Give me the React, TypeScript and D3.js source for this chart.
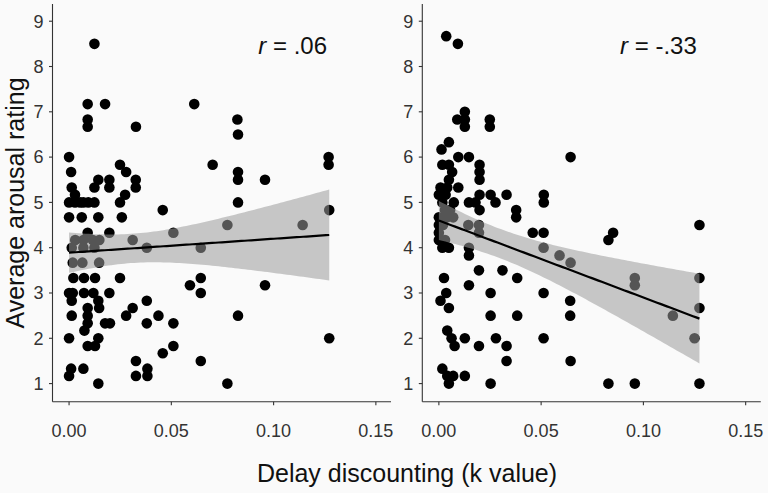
import React from "react";
import * as d3 from "d3";

// ---- Data ----
const leftK = [
  0.0124, 0.0091, 0.0176, 0.0612, 0.0091, 0.0091, 0.0327, 0.0823, 0.0826, 0.0, 0.1269, 0.0702, 0.0249, 0.1269,
  0.001, 0.0279, 0.0826, 0.0143, 0.0197, 0.0326, 0.0826, 0.0958, 0.0013, 0.0124, 0.0197, 0.0326, 0.0029, 0.0274,
  0.0, 0.0029, 0.0054, 0.007, 0.0094, 0.0124, 0.0249, 0.0826, 0.0458, 0.1272, 0.0, 0.0062, 0.0143, 0.0258,
  0.0774, 0.1142, 0.0091, 0.0197, 0.051, 0.003, 0.007, 0.0116, 0.0148, 0.0311, 0.0013, 0.007, 0.0124, 0.038,
  0.0644, 0.0018, 0.0065, 0.0147, 0.0021, 0.0073, 0.0127, 0.0249, 0.0644, 0.0591, 0.0958, 0.0, 0.0018, 0.0073,
  0.0119, 0.0197, 0.0644, 0.0013, 0.0143, 0.038, 0.0091, 0.0147, 0.0311, 0.0013, 0.0091, 0.0279, 0.0437, 0.0826,
  0.0091, 0.0176, 0.02, 0.038, 0.051, 0.0075, 0.0, 0.0143, 0.1272, 0.0091, 0.0127, 0.051, 0.0458, 0.0327,
  0.0644, 0.001, 0.0, 0.007, 0.0327, 0.0383, 0.0383, 0.0143, 0.0774,
];
const leftV = [
  8.5, 7.17, 7.17, 7.17, 6.83, 6.67, 6.67, 6.83, 6.5, 6.0, 6.0, 5.83, 5.83, 5.83,
  5.67, 5.67, 5.67, 5.5, 5.5, 5.5, 5.5, 5.5, 5.33, 5.33, 5.33, 5.33, 5.17, 5.17,
  5.0, 5.0, 5.0, 5.0, 5.0, 5.0, 5.0, 5.0, 4.83, 4.83, 4.67, 4.67, 4.67, 4.67,
  4.5, 4.5, 4.33, 4.33, 4.33, 4.17, 4.17, 4.17, 4.17, 4.17, 4.0, 4.0, 4.0, 4.0,
  4.0, 3.67, 3.67, 3.67, 3.33, 3.33, 3.33, 3.33, 3.33, 3.17, 3.17, 3.0, 3.0, 3.0,
  3.0, 3.0, 3.0, 2.83, 2.83, 2.83, 2.67, 2.67, 2.67, 2.5, 2.5, 2.5, 2.5, 2.5,
  2.33, 2.33, 2.33, 2.33, 2.33, 2.17, 2.0, 2.0, 2.0, 1.83, 1.83, 1.83, 1.67, 1.5,
  1.5, 1.33, 1.17, 1.33, 1.17, 1.33, 1.17, 1.0, 1.0,
];

const rightK = [
  0.0036, 0.0093, 0.0127, 0.009, 0.0127, 0.0127, 0.0249, 0.0249, 0.0049, 0.0013, 0.0095, 0.0147, 0.0644, 0.0017,
  0.0049, 0.0199, 0.0065, 0.0199, 0.0049, 0.0199, 0.0008, 0.0041, 0.0095, 0.0, 0.0033, 0.0199, 0.0253, 0.0331,
  0.0513, 0.0017, 0.0073, 0.0147, 0.0179, 0.0277, 0.0513, 0.0378, 0.0378, 0.0199, 0.0, 0.0, 0.0, 0.0,
  0.003, 0.0055, 0.007, 0.004, 0.002, 0.0144, 0.0196, 0.0196, 0.0017, 0.0049, 0.003, 0.0147, 0.0147, 0.0459,
  0.0512, 0.0512, 0.059, 0.0644, 0.0829, 0.0852, 0.1274, 0.0958, 0.0958, 0.1274, 0.1274, 0.1144, 0.125, 0.1274,
  0.0958, 0.0829, 0.0196, 0.0311, 0.0383, 0.0025, 0.0147, 0.0036, 0.0008, 0.0049, 0.0253, 0.0512, 0.0642, 0.0253,
  0.0383, 0.0642, 0.0041, 0.0062, 0.0077, 0.0127, 0.0196, 0.0279, 0.0331, 0.0331, 0.0512, 0.0644, 0.0017, 0.0041,
  0.007, 0.0049, 0.0127, 0.0253,
];
const rightV = [
  8.67, 8.5, 7.0, 6.83, 6.83, 6.67, 6.83, 6.67, 6.33, 6.17, 6.0, 6.0, 6.0, 5.83,
  5.83, 5.83, 5.67, 5.67, 5.5, 5.5, 5.33, 5.33, 5.33, 5.17, 5.17, 5.17, 5.17, 5.17,
  5.17, 5.0, 5.0, 5.0, 5.0, 5.0, 5.0, 4.83, 4.67, 4.83, 4.67, 4.5, 4.33, 4.17,
  4.83, 4.83, 4.67, 4.67, 4.5, 4.5, 4.5, 4.33, 4.0, 4.0, 4.17, 4.0, 3.83, 4.33,
  4.33, 4.0, 3.83, 3.67, 4.17, 4.33, 4.5, 3.33, 3.17, 3.33, 2.67, 2.5, 2.0, 1.0,
  1.0, 1.0, 3.5, 3.5, 3.33, 3.33, 3.17, 3.0, 2.83, 2.67, 3.0, 3.0, 2.83, 2.5,
  2.5, 2.5, 2.17, 2.0, 1.83, 2.0, 1.83, 2.0, 1.83, 1.5, 2.0, 1.5, 1.33, 1.17,
  1.17, 1.0, 1.17, 1.0,
];

// Fitted regression lines (intercept, slope)
const fitIntercept = [3.89, 4.6];
const fitSlope = [3.07, -17.0];

const xTicks = [0, 0.05, 0.1, 0.15];
const yTicks = [1, 2, 3, 4, 5, 6, 7, 8, 9];
const panelLabels = [".06", "-.33"];
const xTitle = "Delay discounting (k value)";
const yTitle = "Average arousal rating";

const T_CRIT = 1.98;
const FONT = "'Liberation Sans', Arial, Helvetica, sans-serif";

function seFn(xs: number[], ys: number[], a: number, b: number) {
  const n = xs.length;
  const xbar = d3.mean(xs)!;
  let sxx = 0;
  for (let i = 0; i < n; i++) sxx += (xs[i] - xbar) ** 2;
  let sse = 0;
  for (let i = 0; i < n; i++) sse += (ys[i] - (a + b * xs[i])) ** 2;
  const s = Math.sqrt(sse / (n - 2));
  return (x: number) => s * Math.sqrt(1 / n + (x - xbar) ** 2 / sxx);
}

type PanelProps = { ks: number[]; vs: number[]; x0: number; label: string; idx: number };

const TOP = 4;
const BOTTOM = 401.7;
const PW = 338.5;

function Panel({ ks, vs, x0, label, idx }: PanelProps) {
  const x = d3.scaleLinear().domain([-0.0081, 0.1574]).range([x0, x0 + PW]);
  const y = d3.scaleLinear().domain([0.6, 9.38]).range([BOTTOM, TOP]);
  const a = fitIntercept[idx];
  const b = fitSlope[idx];
  const se = seFn(ks, vs, a, b);
  const [kmin, kmax] = d3.extent(ks) as [number, number];
  const grid = d3.range(0, 81).map((i) => kmin + ((kmax - kmin) * i) / 80);
  const band = grid.map((k) => {
    const m = a + b * k;
    const h = T_CRIT * se(k);
    return { k, lo: m - h, hi: m + h, m };
  });
  const area = d3
    .area<{ k: number; lo: number; hi: number }>()
    .x((d) => x(d.k))
    .y0((d) => y(d.lo))
    .y1((d) => y(d.hi));
  const line = d3
    .line<{ k: number; m: number }>()
    .x((d) => x(d.k))
    .y((d) => y(d.m));
  return (
    <g>
      {ks.map((k, i) => (
        <circle key={i} cx={x(k)} cy={y(vs[i])} r={5.3} fill="#000" />
      ))}
      <path d={area(band) || ""} fill="#9a9a9a" fillOpacity={0.55} />
      <path d={line(band) || ""} fill="none" stroke="#000" strokeWidth={2.2} />
      <line x1={x0} x2={x0} y1={TOP} y2={BOTTOM} stroke="#333" strokeWidth={1.1} />
      <line x1={x0} x2={x0 + PW} y1={BOTTOM} y2={BOTTOM} stroke="#333" strokeWidth={1.1} />
      {xTicks.map((t) => (
        <g key={"x" + t}>
          <line x1={x(t)} x2={x(t)} y1={BOTTOM} y2={BOTTOM + 3.5} stroke="#333" strokeWidth={1.1} />
          <text x={x(t)} y={437} textAnchor="middle" fontSize={18} fill="#333" fontFamily={FONT}>
            {d3.format(".2f")(t)}
          </text>
        </g>
      ))}
      {yTicks.map((t) => (
        <g key={"y" + t}>
          <line x1={x0 - 3.5} x2={x0} y1={y(t)} y2={y(t)} stroke="#333" strokeWidth={1.1} />
          <text x={x0 - 9} y={y(t)} dy="0.35em" textAnchor="end" fontSize={18} fill="#333" fontFamily={FONT}>
            {t}
          </text>
        </g>
      ))}
      <text x={x0 + 274.5} y={54} textAnchor="end" fontSize={24} fill="#111" fontFamily={FONT}>
        <tspan fontStyle="italic">r</tspan>
        {" = " + label}
      </text>
    </g>
  );
}

export default function App() {
  return (
    <svg width={768} height={493} style={{ position: "absolute", left: 0, top: 0, background: "#fafafa" }}>
      <rect x={0} y={0} width={768} height={493} fill="#fafafa" />
      <Panel ks={leftK} vs={leftV} x0={52.5} label={panelLabels[0]} idx={0} />
      <Panel ks={rightK} vs={rightV} x0={422.3} label={panelLabels[1]} idx={1} />
      <text x={407} y={482} textAnchor="middle" fontSize={25} fill="#111" fontFamily={FONT}>
        {xTitle}
      </text>
      <text
        transform={`translate(24,203) rotate(-90)`}
        textAnchor="middle"
        fontSize={25}
        fill="#111"
        fontFamily={FONT}
      >
        {yTitle}
      </text>
    </svg>
  );
}
